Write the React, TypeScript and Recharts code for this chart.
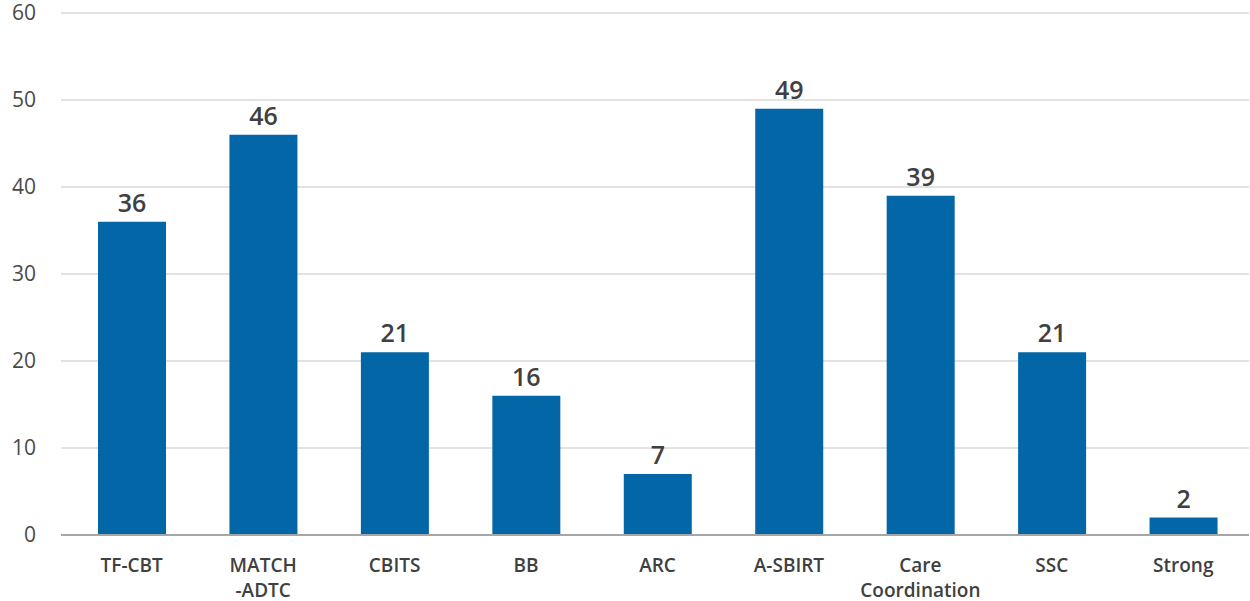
import React from "react";
import { BarChart, Bar, XAxis, YAxis, CartesianGrid, LabelList } from "recharts";

const categories = [
  "TF-CBT",
  "MATCH\n-ADTC",
  "CBITS",
  "BB",
  "ARC",
  "A-SBIRT",
  "Care\nCoordination",
  "SSC",
  "Strong",
];
const counts = [36, 46, 21, 16, 7, 49, 39, 21, 2];
const yTicks = [0, 10, 20, 30, 40, 50, 60];

const data = categories.map((c, i) => ({ name: c, value: counts[i] }));

const FONT = "'Open Sans', 'DejaVu Sans', sans-serif";

const XTick = (props: any) => {
  const { x, y, payload } = props;
  const lines = String(payload.value).split("\n");
  return (
    <text
      x={x}
      y={y + 37}
      textAnchor="middle"
      fill="#404040"
      fontFamily={FONT}
      fontSize={19}
      fontWeight={600}
    >
      {lines.map((l, i) => (
        <tspan key={i} x={x} dy={i === 0 ? 0 : 25}>
          {l}
        </tspan>
      ))}
    </text>
  );
};

export default function App() {
  return (
    <div style={{ position: "absolute", left: 0, top: 0, width: 1250, height: 601, background: "#fff" }}>
      <BarChart
        width={1250}
        height={601}
        data={data}
        margin={{ top: 13, right: 1, bottom: 0, left: 0 }}
        barCategoryGap={0}
      >
        <CartesianGrid vertical={false} stroke="#d9d9d9" strokeWidth={1.5} />
        <XAxis
          dataKey="name"
          interval={0}
          height={66}
          tickSize={0}
          tickMargin={0}
          tickLine={false}
          axisLine={{ stroke: "#a6a6a6", strokeWidth: 2 }}
          padding={{ left: 5, right: 0 }}
          tick={<XTick />}
        />
        <YAxis
          width={61}
          domain={[0, 60]}
          ticks={yTicks}
          interval={0}
          tickSize={0}
          tickMargin={25}
          tickLine={false}
          axisLine={false}
          tick={{ fill: "#4a4a4a", fontSize: 21, fontFamily: FONT, fontWeight: 400 }}
        />
        <Bar dataKey="value" fill="#0366A6" barSize={68} isAnimationActive={false}>
          <LabelList
            dataKey="value"
            position="top"
            offset={10}
            fill="#404040"
            fontSize={25}
            fontWeight={600}
            fontFamily={FONT}
          />
        </Bar>
      </BarChart>
    </div>
  );
}
